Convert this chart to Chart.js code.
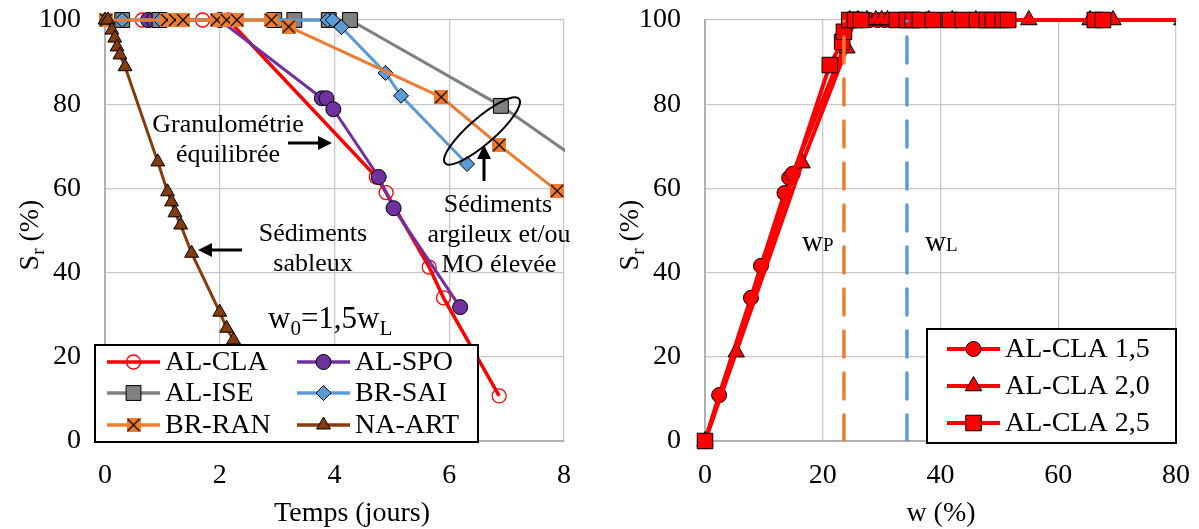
<!DOCTYPE html>
<html lang="fr">
<head>
<meta charset="utf-8">
<title>Degré de saturation</title>
<script src="https://cdn.jsdelivr.net/npm/chart.js@4.4.1/dist/chart.umd.min.js"></script>
<style>
  html, body { margin: 0; padding: 0; background: #fff; }
  #conteneur { position: relative; width: 1199px; height: 529px; overflow: hidden; }
  #graphe-temps { position: absolute; left: 0; top: 0; }
  #graphe-teneur { position: absolute; left: 600px; top: 0; }
</style>
</head>
<body>
<div id="conteneur">
  <canvas id="graphe-temps" width="600" height="529"></canvas>
  <canvas id="graphe-teneur" width="599" height="529"></canvas>
</div>
<script>
// ---- Graphe de gauche : Sr (%) en fonction du temps (jours) ----
const tempsAlCla = [0.65, 0.75, 1.7, 2.15, 4.73, 4.9, 5.65, 5.9, 6.87];
const srAlCla = [100, 100, 100, 100, 62.7, 59, 41.3, 34, 10.7];

const tempsAlSpo = [0.75, 0.85, 2.0, 3.78, 3.86, 3.98, 4.77, 5.03, 6.19];
const srAlSpo = [100, 100, 100, 81.4, 81.4, 78.8, 62.7, 55.3, 31.8];

const tempsAlIse = [0.3, 0.95, 2.95, 3.3, 3.9, 4.27, 6.9, 9.0];
const srAlIse = [100, 100, 100, 100, 100, 100, 79.6, 59.6];

const tempsBrSai = [0.3, 0.97, 3.88, 3.97, 4.12, 4.89, 5.16, 6.31];
const srBrSai = [100, 100, 100, 100, 98.3, 87.4, 82, 65.8];

const tempsBrRan = [0.02, 1.08, 1.22, 1.36, 1.95, 2.12, 2.3, 2.9, 3.2, 5.86, 6.87, 7.88];
const srBrRan = [100, 100, 100, 100, 100, 100, 100, 100, 98.4, 81.7, 70.3, 59.4];

const tempsNaArt = [0, 0.05, 0.12, 0.17, 0.21, 0.26, 0.35, 0.92, 1.09, 1.16, 1.22, 1.32, 1.51, 2.0, 2.12, 2.24];
const srNaArt = [100, 100, 97.6, 95.7, 93.6, 91.7, 88.9, 66.3, 59.2, 56.8, 54.2, 51.3, 44.6, 30.6, 26.8, 24];

const ticksTemps = [0, 2, 4, 6, 8];
const ticksSr = [0, 20, 40, 60, 80, 100];

// ---- Graphe de droite : Sr (%) en fonction de w (%) ----
const wCla15 = [0, 2.4, 7.8, 9.5, 13.5, 14.3, 14.9, 25.5, 26.8, 28, 29.3, 30.5, 31.5, 32.6, 36, 40, 44];
const srCla15 = [0, 10.9, 34, 41.6, 58.9, 62.5, 63.5, 100, 100, 100, 100, 100, 100, 100, 100, 100, 100];

const wCla20 = [0, 5.3, 16.5, 24.1, 24.6, 26, 27.5, 29, 30, 31, 38, 42, 46, 55, 65.4, 69.3, 81];
const srCla20 = [0, 21.1, 66, 93.3, 100, 100, 100, 100, 100, 100, 100, 100, 100, 100, 100, 100, 100];

const wCla25 = [0, 21.2, 23.3, 23.6, 24.5, 25.5, 26.5, 32.6, 34.3, 35.3, 36.5, 38.7, 41.6, 43.8, 46.2, 47.9, 48.9, 50.6, 51.5, 66.2, 67.6];
const srCla25 = [0, 89.3, 94.8, 97.2, 100, 100, 100, 100, 100, 100, 100, 100, 100, 100, 100, 100, 100, 100, 100, 100, 100];

// Limites d'Atterberg (lignes verticales)
const wP = 23.6;
const wL = 34.3;
const srLimites = [0, 100];

const ticksW = [0, 20, 40, 60, 80];

const police = '"Liberation Serif", "Times New Roman", serif';
const { drawPoint } = Chart.helpers;

// Marqueur carré orange avec une croix noire (BR-RAN)
function creerCarreCroix(cote) {
  const c = document.createElement('canvas');
  c.width = cote;
  c.height = cote;
  const g = c.getContext('2d');
  g.fillStyle = '#ED7D31';
  g.fillRect(0, 0, cote, cote);
  g.strokeStyle = '#000';
  g.lineWidth = 1.2;
  g.beginPath();
  g.moveTo(1, 1); g.lineTo(cote - 1, cote - 1);
  g.moveTo(cote - 1, 1); g.lineTo(1, cote - 1);
  g.stroke();
  return c;
}

function serie(label, xs, ys, style) {
  return Object.assign({
    label: label,
    data: xs.map((x, i) => ({ x: x, y: ys[i] })),
    borderWidth: 3,
    tension: 0,
    pointBorderColor: '#000',
    pointBorderWidth: 1,
    clip: { left: 15, top: 15, right: 1, bottom: 15 }
  }, style);
}

// Texte en plusieurs morceaux (indices)
function texteCompose(ctx, morceaux, x, y, align) {
  let largeur = 0;
  morceaux.forEach(m => {
    ctx.font = m.taille + 'px ' + police;
    largeur += ctx.measureText(m.t).width;
  });
  let xc = align === 'center' ? x - largeur / 2 : x;
  ctx.textAlign = 'left';
  ctx.textBaseline = 'alphabetic';
  morceaux.forEach(m => {
    ctx.font = m.taille + 'px ' + police;
    ctx.fillText(m.t, xc, y + (m.dy || 0));
    xc += ctx.measureText(m.t).width;
  });
}

function fleche(ctx, x1, y1, x2, y2) {
  const a = Math.atan2(y2 - y1, x2 - x1);
  const long = 14, demi = 7;
  const bx = x2 - Math.cos(a) * long;
  const by = y2 - Math.sin(a) * long;
  ctx.strokeStyle = '#000';
  ctx.fillStyle = '#000';
  ctx.lineWidth = 3;
  ctx.beginPath();
  ctx.moveTo(x1, y1);
  ctx.lineTo(bx, by);
  ctx.stroke();
  ctx.beginPath();
  ctx.moveTo(x2, y2);
  ctx.lineTo(bx + Math.sin(a) * demi, by - Math.cos(a) * demi);
  ctx.lineTo(bx - Math.sin(a) * demi, by + Math.cos(a) * demi);
  ctx.closePath();
  ctx.fill();
}

// Légende encadrée à l'intérieur du graphe
const pluginLegende = {
  id: 'legendeInterne',
  afterDraw(chart, args, opts) {
    const ctx = chart.ctx;
    const b = opts.boite;
    ctx.save();
    ctx.fillStyle = '#fff';
    ctx.fillRect(b.x, b.y, b.w, b.h);
    ctx.strokeStyle = '#000';
    ctx.lineWidth = 2;
    ctx.strokeRect(b.x, b.y, b.w, b.h);
    opts.elements.forEach(el => {
      const ds = chart.data.datasets[el.indice];
      ctx.strokeStyle = ds.borderColor;
      ctx.lineWidth = opts.epaisseur;
      ctx.beginPath();
      ctx.moveTo(el.x, el.y);
      ctx.lineTo(el.x + opts.longueur, el.y);
      ctx.stroke();
      ctx.fillStyle = ds.pointBackgroundColor;
      ctx.strokeStyle = ds.pointBorderColor;
      ctx.lineWidth = ds.pointBorderWidth;
      drawPoint(ctx, { pointStyle: ds.pointStyle, radius: ds.pointRadius, borderWidth: ds.pointBorderWidth, rotation: 0 },
        el.x + opts.longueur / 2, el.y);
      ctx.fillStyle = '#000';
      ctx.font = opts.taille + 'px ' + police;
      ctx.textAlign = 'left';
      ctx.textBaseline = 'middle';
      ctx.fillText(ds.label, el.x + opts.longueur + 5, el.y + 1);
    });
    ctx.restore();
  }
};

// Titres des axes et annotations
const pluginDecor = {
  id: 'decor',
  afterDraw(chart, args, opts) {
    const ctx = chart.ctx;
    ctx.save();
    ctx.fillStyle = '#000';
    // titre axe Y
    ctx.save();
    ctx.translate(opts.titreY.x, opts.titreY.y);
    ctx.rotate(-Math.PI / 2);
    texteCompose(ctx, [{ t: 'S', taille: 28 }, { t: 'r', taille: 19, dy: 6 }, { t: ' (%)', taille: 28 }], 0, 0, 'center');
    ctx.restore();
    // titre axe X
    texteCompose(ctx, [{ t: opts.titreX.texte, taille: 28 }], opts.titreX.x, opts.titreX.y, 'center');
    opts.dessin(ctx);
    ctx.restore();
  }
};

function optionsAxes(xMin, xMax, pasX) {
  return {
    x: {
      type: 'linear',
      min: xMin,
      max: xMax,
      ticks: { stepSize: pasX, padding: 18, color: '#000', font: { family: police, size: 28 } },
      grid: { color: '#C8C8C8', lineWidth: 1.3, drawTicks: false },
      border: { color: '#B0B0B0', width: 2 },
      afterFit: (s) => { s.height = 88; s.paddingLeft = 0; s.paddingRight = 0; }
    },
    y: {
      type: 'linear',
      min: 0,
      max: 100,
      ticks: { stepSize: 20, padding: 24, color: '#000', font: { family: police, size: 28 } },
      grid: { color: '#C8C8C8', lineWidth: 1.3, drawTicks: false },
      border: { color: '#B0B0B0', width: 2 },
      afterFit: (s) => { s.width = 105; s.paddingTop = 0; s.paddingBottom = 0; }
    }
  };
}

// ---- Construction du graphe de gauche ----
const ctxTemps = document.getElementById('graphe-temps').getContext('2d');
const marqueurRan = creerCarreCroix(14);

let grapheTemps = new Chart(ctxTemps, {
  type: 'line',
  data: {
    datasets: [
      serie('AL-CLA', tempsAlCla, srAlCla, { borderColor: '#FF0000', borderWidth: 3.5, pointStyle: 'circle', pointRadius: 7,
        pointBackgroundColor: 'rgba(255,255,255,0)', pointBorderColor: '#FF0000', pointBorderWidth: 1.3, order: 6 }),
      serie('AL-SPO', tempsAlSpo, srAlSpo, { borderColor: '#7030A0', pointStyle: 'circle', pointRadius: 7.5,
        pointBackgroundColor: '#7030A0', order: 5 }),
      serie('AL-ISE', tempsAlIse, srAlIse, { borderColor: '#808080', pointStyle: 'rect', pointRadius: 10.5,
        pointBackgroundColor: '#808080', order: 4 }),
      serie('BR-SAI', tempsBrSai, srBrSai, { borderColor: '#5B9BD5', pointStyle: 'rectRot', pointRadius: 7.5,
        pointBackgroundColor: '#5B9BD5', order: 3 }),
      serie('BR-RAN', tempsBrRan, srBrRan, { borderColor: '#ED7D31', pointStyle: marqueurRan, pointRadius: 7,
        pointBackgroundColor: '#ED7D31', order: 2 }),
      serie('NA-ART', tempsNaArt, srNaArt, { borderColor: '#843C0C', pointStyle: 'triangle', pointRadius: 8,
        pointBackgroundColor: '#843C0C', order: 1 })
    ]
  },
  options: {
    responsive: false,
    animation: false,
    events: [],
    layout: { padding: { left: 0, right: 36, top: 20, bottom: 0 } },
    scales: optionsAxes(0, 8, 2),
    plugins: {
      legend: { display: false },
      tooltip: { enabled: false },
      legendeInterne: {
        boite: { x: 95, y: 345, w: 383, h: 97 },
        longueur: 53,
        epaisseur: 3.5,
        taille: 28,
        elements: [
          { indice: 0, x: 107, y: 362 }, { indice: 1, x: 297, y: 362 },
          { indice: 2, x: 107, y: 393 }, { indice: 3, x: 297, y: 393 },
          { indice: 4, x: 107, y: 425 }, { indice: 5, x: 297, y: 425 }
        ]
      },
      decor: {
        titreY: { x: 38, y: 235 },
        titreX: { texte: 'Temps (jours)', x: 352, y: 521 },
        dessin: (ctx) => {
          ctx.fillStyle = '#000';
          texteCompose(ctx, [{ t: 'Granulométrie', taille: 26 }], 228, 132, 'center');
          texteCompose(ctx, [{ t: 'équilibrée', taille: 26 }], 228, 162, 'center');
          fleche(ctx, 288, 143, 332, 143);
          texteCompose(ctx, [{ t: 'Sédiments', taille: 26 }], 313, 241, 'center');
          texteCompose(ctx, [{ t: 'sableux', taille: 26 }], 313, 271, 'center');
          fleche(ctx, 242, 250, 198, 250);
          texteCompose(ctx, [{ t: 'Sédiments', taille: 26 }], 498, 212, 'center');
          texteCompose(ctx, [{ t: 'argileux et/ou', taille: 26 }], 499, 242, 'center');
          texteCompose(ctx, [{ t: 'MO élevée', taille: 26 }], 499, 272, 'center');
          fleche(ctx, 484, 181, 484, 145);
          ctx.strokeStyle = '#000';
          ctx.lineWidth = 2;
          ctx.beginPath();
          ctx.ellipse(482, 131, 49, 13, -41 * Math.PI / 180, 0, Math.PI * 2);
          ctx.stroke();
          texteCompose(ctx, [{ t: 'w', taille: 31 }, { t: '0', taille: 21, dy: 7 }, { t: '=1,5w', taille: 31 },
            { t: 'L', taille: 21, dy: 7 }], 268, 328, 'left');
        }
      }
    }
  },
  plugins: [pluginLegende, pluginDecor]
});

// ---- Construction du graphe de droite ----
const ctxTeneur = document.getElementById('graphe-teneur').getContext('2d');
const clipDroite = { left: 15, top: 15, right: 0, bottom: 15 };

let grapheTeneur = new Chart(ctxTeneur, {
  type: 'line',
  data: {
    datasets: [
      { label: 'wP', data: [{ x: wP, y: srLimites[0] }, { x: wP, y: srLimites[1] }], borderColor: '#ED7D31',
        borderWidth: 3.5, borderDash: [26, 16], borderCapStyle: 'round', pointRadius: 0, order: 0 },
      { label: 'wL', data: [{ x: wL, y: srLimites[0] }, { x: wL, y: srLimites[1] }], borderColor: '#5B9BD5',
        borderWidth: 3.5, borderDash: [26, 16], borderCapStyle: 'round', pointRadius: 0, order: 0 },
      serie('AL-CLA 1,5', wCla15, srCla15, { borderColor: '#FF0000', borderWidth: 4, pointStyle: 'circle', pointRadius: 7.5,
        pointBackgroundColor: '#FF0000', order: 3, clip: clipDroite }),
      serie('AL-CLA 2,0', wCla20, srCla20, { borderColor: '#FF0000', borderWidth: 4, pointStyle: 'triangle', pointRadius: 9.5,
        pointBackgroundColor: '#FF0000', order: 2, clip: clipDroite }),
      serie('AL-CLA 2,5', wCla25, srCla25, { borderColor: '#FF0000', borderWidth: 4, pointStyle: 'rect', pointRadius: 11,
        pointBackgroundColor: '#FF0000', order: 1, clip: clipDroite })
    ]
  },
  options: {
    responsive: false,
    animation: false,
    events: [],
    layout: { padding: { left: 0, right: 23, top: 20, bottom: 0 } },
    scales: optionsAxes(0, 80, 20),
    plugins: {
      legend: { display: false },
      tooltip: { enabled: false },
      legendeInterne: {
        boite: { x: 327, y: 329, w: 249, h: 114 },
        longueur: 53,
        epaisseur: 4,
        taille: 28,
        elements: [
          { indice: 2, x: 347, y: 349 },
          { indice: 3, x: 347, y: 386 },
          { indice: 4, x: 347, y: 423 }
        ]
      },
      decor: {
        titreY: { x: 38, y: 235 },
        titreX: { texte: 'w (%)', x: 341, y: 521 },
        dessin: (ctx) => {
          ctx.fillStyle = '#000';
          texteCompose(ctx, [{ t: 'w', taille: 29 }, { t: 'P', taille: 19 }], 202, 251, 'left');
          texteCompose(ctx, [{ t: 'w', taille: 29 }, { t: 'L', taille: 19 }], 325, 251, 'left');
        }
      }
    }
  },
  plugins: [pluginLegende, pluginDecor]
});
</script>
</body>
</html>
